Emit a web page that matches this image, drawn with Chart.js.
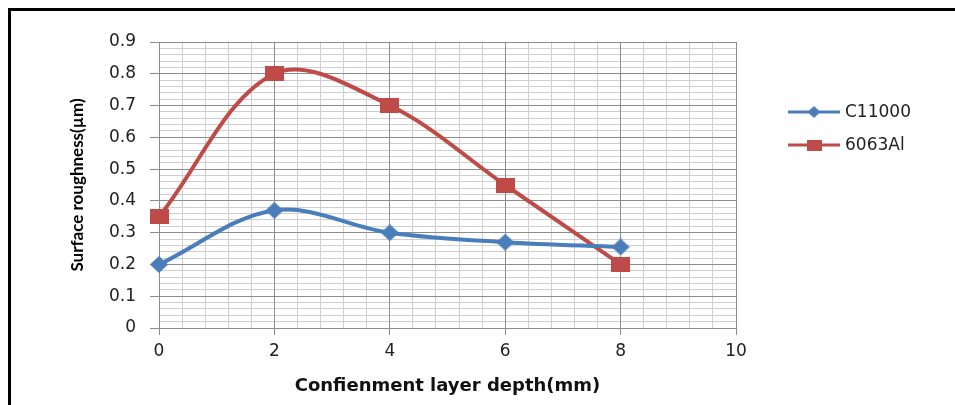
<!DOCTYPE html>
<html>
<head>
<meta charset="utf-8">
<script src="https://cdn.jsdelivr.net/npm/chart.js@4"></script>
<style>
    html, body { margin: 0; padding: 0; background: #fff; }
    #wrap { position: relative; width: 955px; height: 405px; }
    #frame { position: absolute; left: 8px; top: 8px; right: 0; bottom: 0;
             border-top: 3px solid #000; border-left: 3px solid #000; }
    canvas { position: absolute; left: 0; top: 0; }
</style>
</head>
<body>
<div id="wrap">
    <div id="frame"></div>
    <canvas id="chart" width="955" height="405"></canvas>
</div>
<script>
const depths = [0, 2, 4, 6, 8];
const c11000 = [0.20, 0.37, 0.30, 0.27, 0.255];
const al6063 = [0.35, 0.80, 0.70, 0.45, 0.20];
const seriesNames = ['C11000', '6063Al'];
const seriesColors = ['#4a7ebb', '#be4b48'];
const xTitle = 'Confienment layer depth(mm)';
const yTitle = 'Surface roughness(\u00b5m)';

const tickFont = { family: 'DejaVu Sans', size: 17 };

function toPoints(values) {
    return depths.map((d, i) => ({ x: d, y: values[i] }));
}

// the source picture is a bit stretched sideways, so markers are drawn as small images
function makeMarker(kind, w, h, color) {
    const c = document.createElement('canvas');
    c.width = w;
    c.height = h;
    const g = c.getContext('2d');
    g.fillStyle = color;
    if (kind === 'diamond') {
        g.beginPath();
        g.moveTo(w / 2, 0);
        g.lineTo(w, h / 2);
        g.lineTo(w / 2, h);
        g.lineTo(0, h / 2);
        g.closePath();
        g.fill();
    } else {
        g.fillRect(0, 0, w, h);
    }
    return c;
}

const diamond = makeMarker('diamond', 18, 17, seriesColors[0]);
const square = makeMarker('square', 19, 15, seriesColors[1]);
const markers = [diamond, square];

// legend drawn by hand: Excel style line with marker in the middle
const sideLegend = {
    id: 'sideLegend',
    afterDraw(chart) {
        const ctx = chart.ctx;
        seriesNames.forEach((name, i) => {
            const y = 112 + i * 33;
            ctx.save();
            ctx.strokeStyle = seriesColors[i];
            ctx.lineWidth = 3;
            ctx.beginPath();
            ctx.moveTo(788, y);
            ctx.lineTo(840, y);
            ctx.stroke();
            const m = i === 0 ? makeMarker('diamond', 13, 12, seriesColors[0])
                              : makeMarker('square', 15, 11, seriesColors[1]);
            ctx.drawImage(m, 814 - m.width / 2, y - m.height / 2);
            ctx.fillStyle = '#222';
            ctx.font = '17px "DejaVu Sans"';
            ctx.textBaseline = 'middle';
            ctx.fillText(name, 845, y + 1);
            ctx.restore();
        });
    }
};

new Chart(document.getElementById('chart'), {
    type: 'line',
    data: {
        datasets: [
            {
                label: seriesNames[0],
                data: toPoints(c11000),
                borderColor: seriesColors[0],
                backgroundColor: seriesColors[0],
                borderWidth: 4,
                pointStyle: markers[0],
                tension: 0.35,
                clip: false
            },
            {
                label: seriesNames[1],
                data: toPoints(al6063),
                borderColor: seriesColors[1],
                backgroundColor: seriesColors[1],
                borderWidth: 4,
                pointStyle: markers[1],
                tension: 0.35,
                clip: false
            }
        ]
    },
    options: {
        responsive: false,
        animation: false,
        layout: { padding: { left: 60, right: 219, top: 42, bottom: 8 } },
        plugins: {
            legend: { display: false },
            tooltip: { enabled: false }
        },
        scales: {
            xMinor: {
                type: 'linear', position: 'bottom', min: 0, max: 10, z: -1,
                ticks: { stepSize: 0.4, display: false },
                grid: { color: '#cfcfcf', lineWidth: 1, drawTicks: false },
                border: { display: false },
                afterFit(scale) { scale.height = 0; }
            },
            yMinor: {
                type: 'linear', position: 'left', min: 0, max: 0.9, z: -1,
                ticks: { stepSize: 0.02, display: false },
                grid: { color: '#cfcfcf', lineWidth: 1, drawTicks: false },
                border: { display: false },
                afterFit(scale) { scale.width = 0; }
            },
            x: {
                type: 'linear', position: 'bottom', min: 0, max: 10,
                ticks: { stepSize: 2, color: '#222', font: tickFont, padding: 6 },
                grid: { color: '#8c8c8c', lineWidth: 1, tickLength: 7 },
                border: { color: '#8c8c8c', width: 1 },
                title: {
                    display: true, text: xTitle, color: '#111',
                    font: { family: 'DejaVu Sans', size: 18, weight: 'bold' },
                    padding: { top: 8, bottom: 0 }
                },
                afterFit(scale) { scale.height = 69; }
            },
            y: {
                type: 'linear', position: 'left', min: 0, max: 0.9,
                ticks: {
                    stepSize: 0.1, color: '#222', font: tickFont, padding: 14,
                    callback: v => String(Math.round(v * 10) / 10)
                },
                grid: { color: '#8c8c8c', lineWidth: 1, tickLength: 9 },
                border: { color: '#8c8c8c', width: 1 },
                title: {
                    display: true, text: yTitle, color: '#000',
                    font: { family: 'Liberation Sans Narrow, Lato', size: 17, weight: 'bold' },
                    padding: { top: 7, bottom: 4 }
                },
                afterFit(scale) { scale.width = 99; }
            }
        }
    },
    plugins: [sideLegend]
});
</script>
</body>
</html>
